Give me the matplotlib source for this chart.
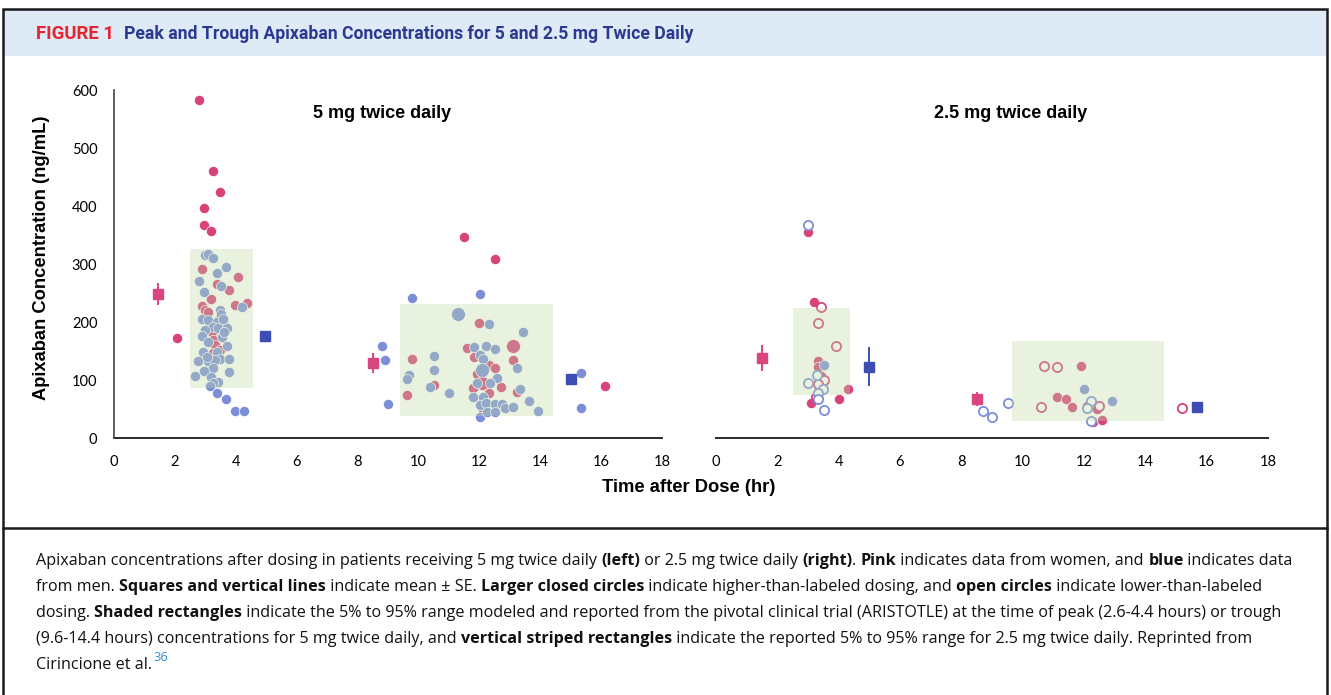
import matplotlib
matplotlib.use("Agg")
import matplotlib.pyplot as plt
from matplotlib.patches import Rectangle
from matplotlib.lines import Line2D
from matplotlib import font_manager

# ---------------- data ----------------
# 5 mg twice daily panel
five_women_hr = [2.78, 3.26, 3.48, 2.97, 2.97, 3.18, 2.88, 4.08, 3.39, 3.78, 3.18, 3.97, 4.38, 2.88,
                 2.99, 3.10, 3.48, 3.59, 3.21, 3.54, 3.26, 3.32, 3.48, 3.24, 2.06,
                 11.51, 12.52, 16.13, 12.00, 11.61, 9.80, 11.83, 13.12, 12.33, 12.52, 11.91,
                 10.51, 11.80, 12.71, 9.61, 12.33, 13.23, 12.11, 13.12, 12.08]
five_women_conc = [583, 460, 424, 397, 368, 357, 291, 278, 265, 255, 240, 229, 232, 228,
                   221, 218, 208, 201, 182, 175, 169, 160, 152, 147, 173,
                   347, 308, 90, 199, 155, 137, 139, 134, 126, 121, 110,
                   91, 86, 88, 75, 77, 79, 50, 159, 94]
five_women_dose = ["std"] * 43 + ["high", "high"]

five_men_hr = [2.99, 3.10, 3.26, 3.39, 2.79, 3.52, 2.97, 3.48, 4.19, 3.52, 2.88, 3.10, 3.37,
               3.26, 2.99, 3.43, 3.70, 2.88, 3.10, 3.54, 3.70, 2.93, 3.37, 3.48, 3.78, 2.77,
               3.10, 3.32, 3.26, 2.97, 3.78, 2.66, 3.19, 3.43, 3.26, 3.15, 3.39, 3.68, 3.97,
               4.28, 3.58, 3.05, 3.62, 3.67,
               9.80, 12.02, 8.79, 8.90, 9.01, 15.33, 15.33, 12.02,
               12.33, 13.43, 11.83, 12.22, 12.52, 10.52, 12.02, 12.13, 10.52, 13.23, 9.70,
               9.61, 12.57, 12.35, 11.91, 10.38, 13.34, 11.00, 11.80, 12.13, 12.02, 12.22,
               12.52, 12.74, 12.85, 13.12, 13.63, 13.94, 12.24, 12.52, 11.29, 12.08]
five_men_conc = [315, 317, 311, 284, 271, 262, 251, 221, 226, 214, 205, 203, 200,
                 191, 186, 189, 190, 176, 166, 175, 159, 149, 149, 137, 137, 132,
                 133, 134, 120, 116, 113, 107, 105, 97, 94, 90, 78, 67, 47,
                 47, 205, 140, 183, 294,
                 241, 248, 159, 134, 58, 112, 52, 36,
                 197, 183, 157, 159, 153, 141, 143, 136, 118, 121, 109,
                 101, 103, 94, 95, 88, 84, 77, 71, 71, 57, 61,
                 58, 58, 52, 54, 63, 47, 44, 44, 213, 118]
five_men_dose = ["std"] * 82 + ["high", "high"]

five_mean_women_hr = [1.45, 8.50]
five_mean_women_conc = [248, 129]
five_mean_women_se = [19, 17]
five_mean_men_hr = [4.96, 15.01]
five_mean_men_conc = [176, 102]
five_mean_men_se = [9, 5]

# 2.5 mg twice daily panel
two_women_hr = [3.01, 3.21, 3.32, 3.33, 3.42, 4.29, 3.33, 4.01, 3.10, 11.90, 11.11, 11.40,
                11.62, 12.09, 12.41, 12.30, 12.60,
                3.41, 3.32, 3.91, 3.53, 3.32, 3.25, 10.71, 11.11, 10.60, 12.50, 15.20]
two_women_conc = [356, 234, 133, 123, 107, 84, 67, 68, 60, 125, 71, 68,
                  54, 55, 50, 27, 31,
                  226, 199, 159, 100, 93, 70, 124, 122, 54, 56, 52]
two_women_dose = ["std"] * 17 + ["low"] * 11

two_men_hr = [3.53, 12.00, 12.90,
              3.01, 3.28, 3.01, 3.50, 3.32, 3.32, 3.52, 8.70, 9.01, 9.51, 12.22, 12.09, 12.22]
two_men_conc = [126, 84, 64,
                367, 109, 95, 84, 78, 68, 48, 47, 36, 60, 64, 51, 30]
two_men_dose = ["std"] * 3 + ["low"] * 13

two_mean_women_hr = [1.51, 8.50]
two_mean_women_conc = [138, 68]
two_mean_women_se = [22, 12]
two_mean_men_hr = [5.00, 15.69]
two_mean_men_conc = [123, 54]
two_mean_men_se = [34, 3]

# shaded 5%-95% ranges: (x0, x1, y0, y1)
five_peak_range = (2.5, 4.55, 87, 326)
five_trough_range = (9.4, 14.43, 38, 231)
two_peak_range = (2.5, 4.37, 75, 224)
two_trough_range = (9.64, 14.61, 30, 167)

panel_titles = ["5 mg twice daily", "2.5 mg twice daily"]
x_ticks = [0, 2, 4, 6, 8, 10, 12, 14, 16, 18]
y_ticks = [0, 100, 200, 300, 400, 500, 600]

# ---------------- style ----------------
W, H = 1331, 695
PINK = "#d8437c"
BLUE = "#7d8ed9"
PINK_MEAN = "#d9457e"
BLUE_MEAN = "#3d4db3"
BOX_COLOR = (192 / 255, 218 / 255, 166 / 255)
BOX_ALPHA = 0.35

avail = {f.name for f in font_manager.fontManager.ttflist}
NARROW = "Liberation Sans Narrow" if "Liberation Sans Narrow" in avail else "Roboto"
TICKFONT = "Lato" if "Lato" in avail else "DejaVu Sans"
CAPFONT = "Open Sans" if "Open Sans" in avail else "DejaVu Sans"
ARIAL = "Liberation Sans" if "Liberation Sans" in avail else "DejaVu Sans"

fig = plt.figure(figsize=(W / 100, H / 100), dpi=100)
fig.patch.set_facecolor("white")


def fx(px):
    return px / W


def fy(py):
    return 1 - py / H


# header band, border, separator
fig.patches.append(Rectangle((fx(4), fy(56)), fx(1322), 46 / H, transform=fig.transFigure,
                             facecolor="#deeaf6", edgecolor="none", zorder=0))
fig.patches.append(Rectangle((fx(3), fy(760)), fx(1324), 751 / H, transform=fig.transFigure,
                             facecolor="none", edgecolor="#1a1a1a", linewidth=1.8, zorder=5))
fig.lines.append(Line2D([fx(3), fx(1327)], [fy(528), fy(528)], transform=fig.transFigure,
                        color="#1a1a1a", linewidth=1.8))

renderer = fig.canvas.get_renderer()

t1 = fig.text(fx(36), fy(34), "FIGURE 1", color="#e3262f", fontsize=12, fontweight="bold",
              family=[NARROW, "DejaVu Sans"], va="center", ha="left")
t2 = fig.text(fx(124), fy(34), "Peak and Trough Apixaban Concentrations for 5 and 2.5 mg Twice Daily",
              color="#2b3990", fontsize=12, fontweight="bold", family=[NARROW, "DejaVu Sans"],
              va="center", ha="left")
# fit title widths to reference
for t, target in ((t1, 78), (t2, 566)):
    w = t.get_window_extent(renderer).width
    t.set_fontsize(12 * target / w)


def draw_panel(ax, women, men, mw, mm, ranges):
    for (hr, conc, dose), col in ((women, PINK), (men, BLUE)):
        for x, y, d in zip(hr, conc, dose):
            if d == "low":
                ax.scatter([x], [y], s=44, facecolor="white", edgecolor=col, linewidth=1.3, zorder=2)
            elif d == "high":
                ax.scatter([x], [y], s=100, facecolor=col, edgecolor="white", linewidth=0.5, zorder=2)
            else:
                ax.scatter([x], [y], s=54, facecolor=col, edgecolor="white", linewidth=0.5, zorder=2)
    for x0, x1, y0, y1 in ranges:
        ax.add_patch(Rectangle((x0, y0), x1 - x0, y1 - y0, facecolor=BOX_COLOR, alpha=BOX_ALPHA,
                               edgecolor="none", zorder=3))
    for (hr, conc, se), col in ((mw, PINK_MEAN), (mm, BLUE_MEAN)):
        ax.errorbar(hr, conc, yerr=se, fmt="s", color=col, markersize=7, elinewidth=1.4,
                    capsize=0, zorder=4)
    ax.set_xlim(0, 18)
    ax.set_ylim(0, 600)
    ax.set_xticks(x_ticks)
    ax.set_xticklabels([str(v) for v in x_ticks], family=TICKFONT, fontsize=10.5)
    ax.tick_params(length=0, pad=12)
    ax.set_facecolor("none")
    for s in ("top", "right"):
        ax.spines[s].set_visible(False)
    ax.spines["bottom"].set_color("#2a2a2a")
    ax.spines["left"].set_color("#444444")
    ax.spines["bottom"].set_linewidth(1.4)
    ax.spines["left"].set_linewidth(1.2)
    ax.spines["bottom"].set_zorder(1)


axL = fig.add_axes([fx(114), fy(438), 548 / W, 348 / H])
draw_panel(axL,
           (five_women_hr, five_women_conc, five_women_dose),
           (five_men_hr, five_men_conc, five_men_dose),
           (five_mean_women_hr, five_mean_women_conc, five_mean_women_se),
           (five_mean_men_hr, five_mean_men_conc, five_mean_men_se),
           [five_peak_range, five_trough_range])
axL.set_yticks(y_ticks)
axL.set_yticklabels([str(v) for v in y_ticks], family=TICKFONT, fontsize=10.5)

axR = fig.add_axes([fx(716), fy(438), 552 / W, 348 / H])
draw_panel(axR,
           (two_women_hr, two_women_conc, two_women_dose),
           (two_men_hr, two_men_conc, two_men_dose),
           (two_mean_women_hr, two_mean_women_conc, two_mean_women_se),
           (two_mean_men_hr, two_mean_men_conc, two_mean_men_se),
           [two_peak_range, two_trough_range])
axR.spines["left"].set_visible(False)
axR.set_yticks([])

fig.text(fx(382), fy(113), panel_titles[0], family=ARIAL, fontweight="bold", fontsize=13,
         ha="center", va="center")
fig.text(fx(1011), fy(113), panel_titles[1], family=ARIAL, fontweight="bold", fontsize=13,
         ha="center", va="center")
fig.text(fx(42), fy(258), "Apixaban Concentration (ng/mL)", family=ARIAL, fontweight="bold",
         fontsize=13.2, rotation=90, ha="center", va="center")
fig.text(fx(689), fy(488), "Time after Dose (hr)", family=ARIAL, fontweight="bold",
         fontsize=13.2, ha="center", va="center")

# ---------------- caption ----------------
caption_lines = [
    [("Apixaban concentrations after dosing in patients receiving 5 mg twice daily ", False),
     ("(left)", True), (" or 2.5 mg twice daily ", False), ("(right)", True), (". ", False),
     ("Pink", True), (" indicates data from women, and ", False), ("blue", True),
     (" indicates data", False)],
    [("from men. ", False), ("Squares and vertical lines", True), (" indicate mean \u00b1 SE. ", False),
     ("Larger closed circles", True), (" indicate higher-than-labeled dosing, and ", False),
     ("open circles", True), (" indicate lower-than-labeled", False)],
    [("dosing. ", False), ("Shaded rectangles", True),
     (" indicate the 5% to 95% range modeled and reported from the pivotal clinical trial (ARISTOTLE) at the time of peak (2.6-4.4 hours) or trough", False)],
    [("(9.6-14.4 hours) concentrations for 5 mg twice daily, and ", False),
     ("vertical striped rectangles", True),
     (" indicate the reported 5% to 95% range for 2.5 mg twice daily. Reprinted from", False)],
    [("Cirincione et al.", False)],
]
baselines = [565, 591, 617, 643, 669]


def seg_width(text, bold, size):
    tt = fig.text(0, 0, text + "x", family=CAPFONT, fontweight="bold" if bold else "normal",
                  fontsize=size)
    tx = fig.text(0, 0, "x", family=CAPFONT, fontweight="bold" if bold else "normal", fontsize=size)
    w = tt.get_window_extent(renderer).width - tx.get_window_extent(renderer).width
    tt.remove()
    tx.remove()
    return w


base_size = 10.0
w0 = sum(seg_width(s, b, base_size) for s, b in caption_lines[0])
cap_size = base_size * 1254 / w0

for line, yb in zip(caption_lines, baselines):
    x = 36
    for s, b in line:
        fig.text(fx(x), fy(yb), s, family=CAPFONT, fontweight="bold" if b else "normal",
                 fontsize=cap_size, ha="left", va="baseline", color="#111111")
        x += seg_width(s, b, cap_size)
    last_x = x
fig.text(fx(last_x + 1), fy(669 - 8), "36", family=CAPFONT, fontsize=cap_size * 0.8,
         ha="left", va="baseline", color="#2f8fd6")

fig.savefig("out.png", dpi=100)
